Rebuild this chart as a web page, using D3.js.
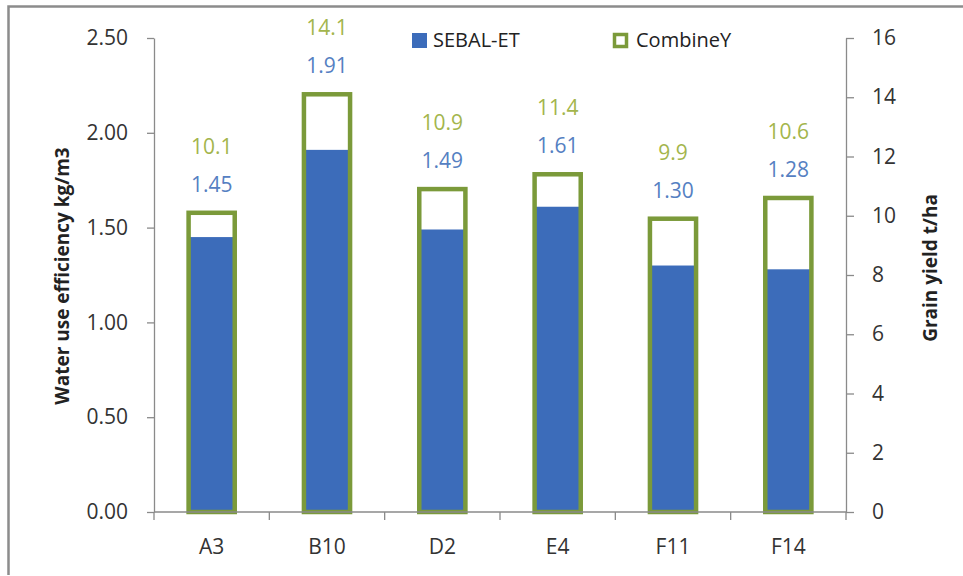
<!DOCTYPE html>
<html>
<head>
<meta charset="utf-8">
<script src="https://cdn.jsdelivr.net/npm/d3@7"></script>
<style>
  html, body { margin: 0; padding: 0; background: #fff; }
  svg { display: block; font-family: "Open Sans", "Noto Sans", sans-serif; }
</style>
</head>
<body>
<svg id="chart" width="963" height="576"></svg>
<script>
// ---- data ----
const categories = ["A3", "B10", "D2", "E4", "F11", "F14"];
const sebalET = [1.45, 1.91, 1.49, 1.61, 1.30, 1.28];      // left axis, kg/m3
const combineY = [10.1, 14.1, 10.9, 11.4, 9.9, 10.6];     // right axis, t/ha
const leftTicks = [0, 0.5, 1.0, 1.5, 2.0, 2.5];
const rightTicks = [0, 2, 4, 6, 8, 10, 12, 14, 16];
const seriesNames = ["SEBAL-ET", "CombineY"];

// ---- layout ----
const svg = d3.select("#chart");
const plotL = 154, plotR = 846, plotT = 38, plotB = 512;
const blue = "#3C6CBA", green = "#7B9A3A";
const blueLbl = "#5580C2", greenLbl = "#A3B54C";
const axisCol = "#8A8A8A", textCol = "#333333";

// outer frame
svg.append("path")
  .attr("d", "M 8.5 575 L 8.5 6.5 L 963 6.5")
  .attr("fill", "none").attr("stroke", "#8C8C8C").attr("stroke-width", 2.5);

const x = d3.scaleBand().domain(categories).range([plotL, plotR]).padding(0);
const yL = d3.scaleLinear().domain([0, 2.5]).range([plotB, plotT]);
const yR = d3.scaleLinear().domain([0, 16]).range([plotB, plotT]);
const barW = x.bandwidth() * 0.4;
const sw = 4.5;

// bars
const g = svg.append("g");
categories.forEach((c, i) => {
  const cx = x(c) + x.bandwidth() / 2;
  g.append("rect")
    .attr("x", cx - barW / 2).attr("y", yR(combineY[i]))
    .attr("width", barW).attr("height", plotB - yR(combineY[i]))
    .attr("fill", "#fff");
  g.append("rect")
    .attr("x", cx - barW / 2).attr("y", yL(sebalET[i]))
    .attr("width", barW).attr("height", plotB - yL(sebalET[i]))
    .attr("fill", blue);
  g.append("rect")
    .attr("x", cx - barW / 2).attr("y", yR(combineY[i]))
    .attr("width", barW).attr("height", plotB - yR(combineY[i]))
    .attr("fill", "none").attr("stroke", green).attr("stroke-width", sw);
  g.append("text")
    .attr("x", cx).attr("y", yR(combineY[i]) - 59)
    .attr("text-anchor", "middle").attr("font-size", 21)
    .attr("fill", greenLbl).text(d3.format(".1f")(combineY[i]));
  g.append("text")
    .attr("x", cx).attr("y", yR(combineY[i]) - 21)
    .attr("text-anchor", "middle").attr("font-size", 21)
    .attr("fill", blueLbl).text(d3.format(".2f")(sebalET[i]));
});

// left axis
const axL = svg.append("g").attr("transform", `translate(${plotL},0)`)
  .call(d3.axisLeft(yL).tickValues(leftTicks).tickFormat(d3.format(".2f"))
        .tickSizeInner(7).tickSizeOuter(0).tickPadding(19));
// right axis
const axR = svg.append("g").attr("transform", `translate(${plotR},0)`)
  .call(d3.axisRight(yR).tickValues(rightTicks)
        .tickSizeInner(8).tickSizeOuter(0).tickPadding(18));
[axL, axR].forEach(a => {
  a.select(".domain").attr("stroke", axisCol).attr("stroke-width", 1.3);
  a.selectAll(".tick line").attr("stroke", axisCol).attr("stroke-width", 1.3);
  a.selectAll(".tick text").attr("font-size", 21).attr("fill", textCol)
    .attr("font-family", "'Open Sans', sans-serif");
});

// x axis baseline + boundary ticks + labels
svg.append("line").attr("x1", plotL).attr("x2", plotR)
  .attr("y1", plotB).attr("y2", plotB)
  .attr("stroke", axisCol).attr("stroke-width", 1.3);
const bounds = categories.map(c => x(c)).concat([plotR]);
svg.selectAll(".xb").data(bounds).enter().append("line")
  .attr("x1", d => d).attr("x2", d => d)
  .attr("y1", plotB).attr("y2", plotB + 8)
  .attr("stroke", axisCol).attr("stroke-width", 1.3);
const axB = svg.append("g").attr("transform", `translate(0,${plotB})`)
  .call(d3.axisBottom(x).tickSize(0).tickPadding(27));
axB.select(".domain").remove();
axB.selectAll(".tick text").attr("font-size", 21).attr("fill", textCol)
  .attr("font-family", "'Open Sans', sans-serif");

// axis titles
svg.append("text")
  .attr("transform", "translate(69,276) rotate(-90)")
  .attr("text-anchor", "middle").attr("font-size", 19).attr("font-weight", "bold")
  .attr("fill", "#222").text("Water use efficiency kg/m3");
svg.append("text")
  .attr("transform", "translate(937,268) rotate(-90)")
  .attr("text-anchor", "middle").attr("font-size", 19).attr("font-weight", "bold")
  .attr("fill", "#222").text("Grain yield t/ha");

// legend
const lg = svg.append("g");
lg.append("rect").attr("x", 412).attr("y", 33).attr("width", 15).attr("height", 15)
  .attr("fill", blue);
lg.append("text").attr("x", 433).attr("y", 47).attr("font-size", 20)
  .attr("fill", "#222").text(seriesNames[0]);
lg.append("rect").attr("x", 614.5).attr("y", 34.5).attr("width", 12).attr("height", 12)
  .attr("fill", "#fff").attr("stroke", green).attr("stroke-width", 3.5);
lg.append("text").attr("x", 636).attr("y", 47).attr("font-size", 20)
  .attr("fill", "#222").text(seriesNames[1]);
</script>
</body>
</html>
